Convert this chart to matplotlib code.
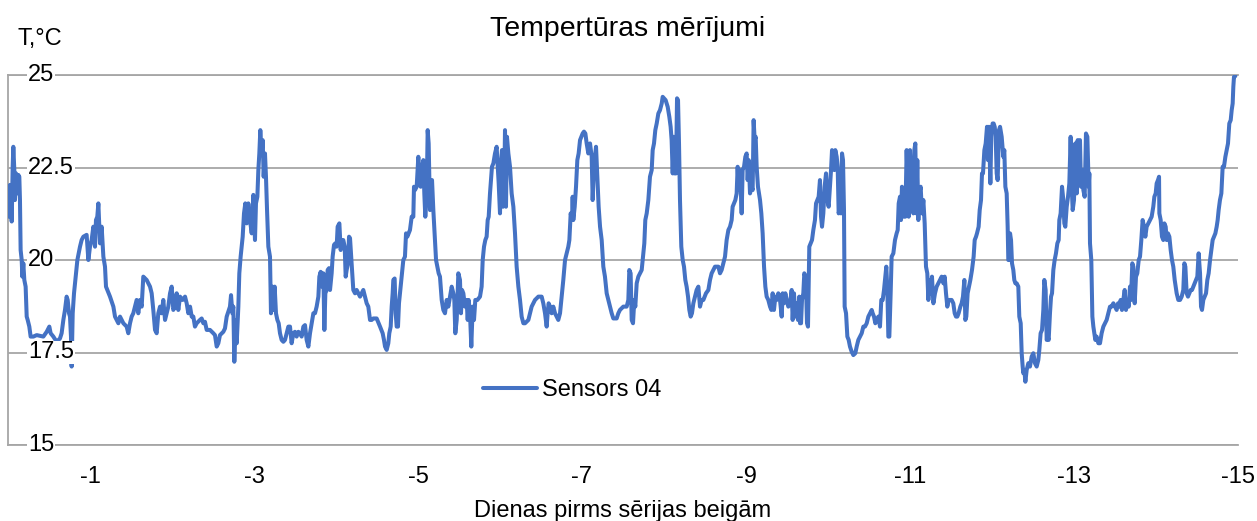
"""
Temperature series of sensor 04 over the last 15 days.
Values read off the reference chart (days before the end of the series, degC).
"""

import matplotlib
matplotlib.use('Agg')
import matplotlib.pyplot as plt
import matplotlib.transforms as mtransforms
import numpy as np

# --- data, segment by segment (day 0 .. day -15) ---------------------------
days_1 = [0.0, -0.004, -0.024, -0.037, -0.045, -0.057, -0.065, -0.077, -0.085, -0.098,
          -0.106, -0.118, -0.126, -0.138, -0.146, -0.154, -0.167, -0.175, -0.187, -0.199,
          -0.215, -0.228, -0.240, -0.260, -0.276, -0.309, -0.350, -0.431, -0.472, -0.504,
          -0.520, -0.553, -0.593, -0.634, -0.654, -0.675, -0.695, -0.715, -0.728, -0.744,
          -0.756, -0.768, -0.776, -0.789, -0.805, -0.829, -0.846, -0.878, -0.898, -0.919,
          -0.959, -0.980, -1.000, -1.020, -1.041, -1.061, -1.073, -1.089, -1.102, -1.122,
          -1.142, -1.163, -1.183, -1.195, -1.211, -1.244, -1.285, -1.305, -1.346, -1.366,
          -1.407, -1.447, -1.467, -1.488, -1.508, -1.528, -1.549, -1.569, -1.589, -1.610,
          -1.630, -1.650, -1.691, -1.732, -1.752, -1.772, -1.793, -1.813, -1.833, -1.854,
          -1.874, -1.894, -1.915, -1.935, -1.955, -1.976, -1.996, -2.016, -2.037, -2.057,
          -2.077, -2.098, -2.130, -2.159, -2.179, -2.199, -2.220, -2.240, -2.260, -2.280,
          -2.301, -2.341]
temps_1 = [21.98, 21.17, 22.03, 21.44, 21.04, 22.52, 23.06, 22.43, 21.62, 22.34,
           22.25, 21.80, 22.30, 22.25, 21.62, 20.27, 20.00, 19.55, 19.91, 19.46,
           19.28, 18.47, 18.38, 18.20, 17.93, 17.93, 17.97, 17.93, 18.06, 18.20,
           18.02, 17.93, 17.79, 17.88, 18.02, 18.38, 18.65, 19.01, 18.92, 18.56,
           18.47, 17.93, 17.12, 18.56, 19.10, 19.64, 20.00, 20.36, 20.54, 20.63,
           20.68, 20.00, 20.36, 20.54, 20.90, 20.36, 21.08, 21.17, 21.53, 20.45,
           20.90, 20.09, 19.82, 19.28, 19.19, 19.01, 18.74, 18.47, 18.29, 18.47,
           18.29, 18.20, 18.02, 18.29, 18.47, 18.56, 18.74, 18.92, 18.56, 18.92,
           18.74, 19.55, 19.46, 19.28, 19.10, 18.65, 18.11, 18.02, 18.56, 18.74,
           18.56, 18.92, 18.38, 18.56, 18.74, 19.10, 19.28, 18.65, 18.74, 19.10,
           18.65, 19.01, 18.92, 19.01, 18.83, 18.56, 18.74, 18.47, 18.47, 18.20,
           18.29, 18.38]

days_2 = [-2.362, -2.382, -2.402, -2.423, -2.463, -2.504, -2.524, -2.545, -2.565, -2.585,
          -2.626, -2.646, -2.667, -2.707, -2.720, -2.736, -2.748, -2.760, -2.776, -2.789,
          -2.809, -2.821, -2.837, -2.862, -2.878, -2.894, -2.911, -2.931, -2.951, -2.972,
          -2.992, -3.012, -3.024, -3.041, -3.053, -3.065, -3.077, -3.093, -3.106, -3.118,
          -3.134, -3.146, -3.159, -3.175, -3.195, -3.207, -3.224, -3.236, -3.252, -3.268,
          -3.285, -3.301, -3.317, -3.337, -3.358, -3.378, -3.398, -3.419, -3.439, -3.459,
          -3.480, -3.500, -3.520, -3.541, -3.561, -3.581, -3.602, -3.622, -3.642, -3.663,
          -3.683, -3.703, -3.724, -3.744, -3.764, -3.785, -3.797, -3.813, -3.829, -3.846,
          -3.858, -3.870, -3.886, -3.898, -3.915, -3.927, -3.947, -3.959, -3.976, -3.992,
          -4.008, -4.020, -4.041, -4.057, -4.073, -4.089, -4.106, -4.118, -4.130, -4.146,
          -4.159, -4.171, -4.191, -4.199, -4.211, -4.232, -4.252, -4.272, -4.293, -4.313,
          -4.333, -4.354, -4.374, -4.394, -4.415, -4.435, -4.455, -4.496, -4.537, -4.569,
          -4.585, -4.598, -4.618, -4.638, -4.650, -4.667, -4.679, -4.691, -4.699, -4.715,
          -4.728, -4.740, -4.756, -4.768, -4.780]
temps_2 = [18.42, 18.29, 18.33, 18.11, 18.11, 18.02, 17.97, 17.66, 17.75, 17.97,
           18.06, 18.15, 18.47, 18.74, 19.05, 18.56, 18.74, 17.25, 18.38, 17.75,
           18.74, 19.64, 20.09, 20.63, 21.26, 21.53, 20.99, 21.53, 21.08, 20.72,
           21.76, 20.54, 21.53, 21.71, 22.43, 22.88, 23.51, 22.88, 23.24, 22.25,
           22.88, 22.25, 21.35, 20.36, 20.09, 18.56, 19.28, 18.65, 19.28, 18.56,
           18.38, 18.29, 18.02, 17.84, 17.79, 17.84, 18.02, 18.20, 18.20, 17.75,
           18.02, 18.06, 17.93, 18.06, 18.02, 17.93, 18.20, 18.24, 17.84, 17.66,
           18.02, 18.29, 18.56, 18.56, 18.74, 19.01, 19.55, 19.68, 19.28, 19.64,
           18.11, 19.10, 19.19, 19.73, 19.78, 19.19, 19.64, 20.09, 20.41, 20.45,
           20.36, 20.90, 20.99, 20.27, 20.54, 20.54, 20.36, 19.55, 19.73, 19.91,
           20.63, 20.59, 19.91, 19.64, 19.19, 19.10, 19.19, 19.10, 19.01, 19.10,
           19.19, 19.01, 18.83, 18.74, 18.38, 18.38, 18.42, 18.42, 18.20, 18.02,
           17.84, 17.66, 17.57, 17.75, 18.02, 18.20, 18.74, 19.10, 19.46, 19.50,
           18.56, 18.20, 18.20, 18.83, 19.10]

days_3 = [-4.821, -4.841, -4.854, -4.870, -4.902, -4.923, -4.943, -4.951, -4.963, -4.984,
          -5.004, -5.016, -5.033, -5.049, -5.065, -5.077, -5.089, -5.106, -5.118, -5.130,
          -5.146, -5.159, -5.171, -5.187, -5.207, -5.220, -5.236, -5.252, -5.268, -5.289,
          -5.309, -5.329, -5.350, -5.370, -5.390, -5.411, -5.431, -5.443, -5.455, -5.472,
          -5.492, -5.512, -5.524, -5.537, -5.553, -5.573, -5.593, -5.606, -5.618, -5.634,
          -5.650, -5.667, -5.683, -5.699, -5.724, -5.756, -5.776, -5.789, -5.805, -5.821,
          -5.837, -5.850, -5.862, -5.878, -5.890, -5.902, -5.919, -5.939, -5.959, -5.972,
          -5.984, -6.000, -6.012, -6.024, -6.037, -6.049, -6.061, -6.073, -6.085, -6.102,
          -6.122, -6.142, -6.163, -6.183, -6.203, -6.224, -6.244, -6.264, -6.285, -6.305,
          -6.346, -6.386, -6.427, -6.468, -6.508, -6.528, -6.549, -6.569, -6.581, -6.593,
          -6.610, -6.630, -6.650, -6.671, -6.691, -6.711, -6.732, -6.752, -6.772, -6.793,
          -6.813, -6.833, -6.846, -6.862, -6.878, -6.886, -6.894, -6.911, -6.927, -6.943,
          -6.959, -6.976, -6.992, -7.008, -7.024, -7.041, -7.057, -7.077, -7.098, -7.118,
          -7.130, -7.146, -7.159, -7.171, -7.187, -7.203, -7.220]
temps_3 = [20.00, 20.09, 20.72, 20.63, 20.81, 21.17, 21.17, 21.98, 21.89, 21.98,
           22.79, 22.25, 21.98, 22.52, 22.70, 21.80, 21.17, 21.80, 23.51, 23.15,
           21.35, 21.98, 22.16, 21.35, 20.54, 20.00, 19.82, 19.64, 19.55, 18.92,
           18.65, 18.56, 18.92, 18.74, 19.01, 19.28, 19.10, 18.92, 18.02, 18.38,
           19.64, 19.46, 18.56, 19.19, 19.10, 18.74, 18.92, 18.38, 18.92, 18.56,
           17.66, 18.74, 18.38, 18.92, 18.92, 19.01, 19.28, 20.00, 20.36, 20.54,
           20.63, 21.08, 21.17, 21.80, 22.16, 22.52, 22.61, 22.88, 23.06, 22.52,
           22.07, 21.26, 22.61, 22.97, 21.44, 21.62, 23.51, 21.44, 23.33, 22.88,
           22.52, 21.80, 21.44, 20.72, 19.82, 19.28, 18.92, 18.47, 18.29, 18.29,
           18.38, 18.74, 18.92, 19.01, 19.01, 18.83, 18.56, 18.20, 18.56, 18.83,
           18.74, 18.56, 18.74, 18.56, 18.47, 18.38, 18.56, 19.01, 19.46, 20.00,
           20.18, 20.36, 20.54, 21.26, 21.08, 21.71, 21.08, 21.44, 21.98, 22.70,
           22.88, 23.24, 23.33, 23.42, 23.47, 23.42, 23.15, 22.88, 23.15, 22.79,
           21.62, 22.52, 22.79, 23.06, 22.25, 21.44, 20.90]

days_4 = [-7.240, -7.260, -7.280, -7.301, -7.321, -7.341, -7.362, -7.382, -7.423, -7.443,
          -7.463, -7.504, -7.545, -7.565, -7.577, -7.593, -7.606, -7.622, -7.638, -7.650,
          -7.667, -7.687, -7.707, -7.728, -7.748, -7.760, -7.772, -7.789, -7.809, -7.829,
          -7.850, -7.862, -7.878, -7.894, -7.911, -7.931, -7.951, -7.972, -7.984, -8.000,
          -8.020, -8.045, -8.065, -8.081, -8.093, -8.106, -8.118, -8.130, -8.146, -8.159,
          -8.171, -8.183, -8.195, -8.211, -8.228, -8.244, -8.260, -8.276, -8.293, -8.309,
          -8.325, -8.341, -8.358, -8.378, -8.398, -8.419, -8.439, -8.459, -8.480, -8.512,
          -8.541, -8.561, -8.581, -8.602, -8.622, -8.663, -8.683, -8.703, -8.724, -8.744,
          -8.764, -8.785, -8.805, -8.825, -8.837, -8.854, -8.870, -8.886, -8.898, -8.911,
          -8.927, -8.947, -8.959, -8.976, -8.992, -9.008, -9.020, -9.033, -9.049, -9.069,
          -9.081, -9.093, -9.106, -9.118, -9.130, -9.146, -9.171, -9.187, -9.203, -9.220,
          -9.236, -9.252, -9.272, -9.293, -9.309, -9.325, -9.341, -9.358, -9.374, -9.394,
          -9.415, -9.435, -9.447, -9.463, -9.480, -9.496, -9.516, -9.537, -9.557, -9.569,
          -9.585, -9.602, -9.622, -9.634, -9.650, -9.659]
temps_4 = [20.54, 19.82, 19.55, 19.10, 18.92, 18.74, 18.56, 18.42, 18.42, 18.56,
           18.65, 18.74, 18.74, 18.92, 19.73, 19.64, 18.38, 18.29, 18.92, 18.74,
           19.37, 19.55, 19.64, 19.73, 20.18, 20.45, 21.08, 21.26, 21.62, 22.25,
           22.43, 22.97, 23.15, 23.51, 23.69, 23.96, 24.05, 24.23, 24.41, 24.37,
           24.32, 24.14, 23.87, 23.60, 23.24, 22.34, 23.33, 22.34, 22.34, 24.37,
           24.32, 23.15, 21.62, 20.36, 20.00, 19.82, 19.46, 19.28, 19.01, 18.65,
           18.47, 18.56, 18.83, 19.01, 19.19, 19.28, 18.74, 18.92, 18.92, 19.10,
           19.19, 19.46, 19.64, 19.73, 19.82, 19.82, 19.64, 19.73, 19.91, 20.09,
           20.54, 20.81, 20.90, 21.08, 21.44, 21.53, 21.62, 21.80, 22.52, 21.89,
           22.43, 21.26, 22.43, 22.52, 22.79, 22.88, 22.16, 22.70, 21.80, 21.98,
           21.89, 23.78, 23.24, 23.33, 22.52, 21.98, 21.62, 21.26, 20.72, 19.82,
           19.28, 19.01, 18.92, 18.74, 18.65, 19.10, 18.65, 19.01, 18.92, 19.10,
           18.92, 18.47, 19.10, 18.83, 19.10, 18.92, 18.74, 18.83, 19.19, 18.38,
           19.10, 18.47, 18.83, 18.38, 19.01, 18.29]

days_5 = [-9.671, -9.683, -9.699, -9.711, -9.724, -9.732, -9.744, -9.756, -9.772, -9.789,
          -9.805, -9.821, -9.841, -9.854, -9.870, -9.886, -9.902, -9.915, -9.927, -9.943,
          -9.959, -9.976, -9.992, -10.008, -10.024, -10.037, -10.049, -10.065, -10.077, -10.089,
          -10.106, -10.118, -10.130, -10.146, -10.159, -10.171, -10.183, -10.195, -10.203, -10.220,
          -10.236, -10.252, -10.268, -10.289, -10.309, -10.333, -10.350, -10.370, -10.390, -10.411,
          -10.431, -10.451, -10.472, -10.492, -10.512, -10.533, -10.545, -10.561, -10.577, -10.593,
          -10.614, -10.634, -10.650, -10.667, -10.683, -10.699, -10.711, -10.724, -10.736, -10.748,
          -10.764, -10.776, -10.797, -10.817, -10.837, -10.850, -10.862, -10.878, -10.890, -10.902,
          -10.919, -10.931, -10.943, -10.959, -10.972, -10.984, -11.000, -11.016, -11.028, -11.041,
          -11.053, -11.065, -11.077, -11.089, -11.102, -11.114, -11.130, -11.146, -11.163, -11.179,
          -11.195, -11.211, -11.224, -11.236, -11.252, -11.268, -11.285, -11.305, -11.325, -11.346,
          -11.366, -11.386, -11.407, -11.423, -11.439, -11.455, -11.472, -11.488, -11.508, -11.528,
          -11.545, -11.561, -11.577, -11.593, -11.614, -11.630, -11.646, -11.663, -11.675, -11.687,
          -11.703, -11.720, -11.736, -11.756, -11.776, -11.789, -11.805, -11.817, -11.837, -11.850,
          -11.866, -11.878, -11.890, -11.907, -11.923, -11.939, -11.951, -11.963, -11.980, -11.992,
          -12.008, -12.020, -12.033, -12.045, -12.057, -12.069, -12.085, -12.098]
temps_5 = [18.29, 18.92, 19.10, 19.64, 19.55, 19.28, 18.29, 18.20, 20.36, 20.45,
           20.54, 20.81, 21.08, 21.53, 21.62, 21.71, 22.16, 21.17, 20.90, 21.26,
           21.98, 22.34, 21.62, 21.44, 21.98, 22.43, 22.97, 22.88, 22.43, 22.97,
           22.79, 22.52, 21.26, 21.44, 21.26, 22.88, 22.70, 21.35, 18.74, 18.56,
           17.93, 17.84, 17.66, 17.52, 17.43, 17.48, 17.66, 17.84, 17.93, 18.02,
           18.20, 18.20, 18.29, 18.47, 18.56, 18.65, 18.56, 18.47, 18.29, 18.38,
           18.47, 18.20, 18.92, 18.92, 19.19, 19.55, 19.82, 19.19, 17.93, 17.93,
           19.10, 20.09, 20.18, 20.54, 20.72, 20.81, 21.53, 21.71, 21.08, 21.98,
           21.17, 21.71, 21.17, 22.97, 22.07, 21.17, 22.97, 21.98, 22.70, 21.26,
           22.97, 23.15, 21.26, 22.70, 21.08, 21.80, 21.98, 21.26, 21.62, 20.99,
           19.82, 19.64, 18.92, 19.46, 19.10, 19.55, 18.83, 19.10, 19.28, 19.37,
           19.46, 19.55, 19.37, 19.55, 19.10, 18.74, 18.92, 18.92, 18.92, 18.83,
           18.56, 18.47, 18.47, 18.56, 18.74, 18.83, 19.01, 19.46, 18.38, 18.47,
           19.10, 19.28, 19.46, 19.73, 20.09, 20.54, 20.63, 20.72, 20.90, 21.35,
           21.62, 22.34, 22.34, 22.97, 23.15, 23.60, 22.70, 23.60, 22.07, 23.42,
           23.69, 23.69, 23.60, 23.33, 22.34, 22.16, 23.51, 23.60]

days_6 = [-12.118, -12.138, -12.150, -12.163, -12.179, -12.191, -12.199, -12.211, -12.220, -12.232,
          -12.244, -12.260, -12.272, -12.285, -12.301, -12.321, -12.333, -12.350, -12.362, -12.374,
          -12.382, -12.394, -12.407, -12.423, -12.443, -12.463, -12.484, -12.504, -12.524, -12.545,
          -12.565, -12.577, -12.593, -12.610, -12.626, -12.638, -12.654, -12.667, -12.679, -12.691,
          -12.707, -12.720, -12.732, -12.748, -12.764, -12.780, -12.797, -12.813, -12.821, -12.837,
          -12.854, -12.870, -12.882, -12.894, -12.911, -12.927, -12.943, -12.959, -12.972, -12.984,
          -13.000, -13.016, -13.033, -13.045, -13.057, -13.073, -13.085, -13.098, -13.114, -13.130,
          -13.146, -13.163, -13.179, -13.187, -13.195, -13.211, -13.224, -13.236, -13.248, -13.260,
          -13.276, -13.297, -13.317, -13.337, -13.358, -13.378, -13.398, -13.419, -13.439, -13.459,
          -13.480, -13.500, -13.520, -13.537, -13.553, -13.569, -13.585, -13.602, -13.618, -13.634,
          -13.650, -13.667, -13.683, -13.695, -13.711, -13.724, -13.740, -13.756, -13.772, -13.789,
          -13.805, -13.821, -13.837, -13.854, -13.870, -13.886, -13.907, -13.927, -13.947, -13.967,
          -13.980, -13.996, -14.008, -14.024, -14.037, -14.041, -14.057, -14.073, -14.089, -14.102,
          -14.118, -14.130, -14.146, -14.163, -14.179, -14.195, -14.211, -14.228, -14.240, -14.252,
          -14.272, -14.293, -14.313, -14.333, -14.346, -14.358, -14.374, -14.390, -14.407, -14.423,
          -14.439, -14.455, -14.472, -14.488, -14.504, -14.520, -14.537, -14.549, -14.561, -14.577,
          -14.593, -14.610, -14.626, -14.642, -14.659, -14.675, -14.691, -14.707, -14.724, -14.740,
          -14.752, -14.764, -14.780, -14.797, -14.813, -14.829, -14.846, -14.862, -14.878, -14.894,
          -14.911, -14.923, -14.935, -14.943, -14.951, -14.967]
temps_6 = [23.33, 22.79, 22.97, 21.98, 21.80, 20.90, 20.00, 20.00, 20.72, 20.54,
           19.91, 19.73, 19.46, 19.37, 19.37, 19.28, 18.47, 18.29, 17.48, 17.12,
           16.94, 17.03, 16.71, 17.03, 17.21, 17.12, 17.39, 17.48, 17.21, 17.12,
           17.30, 17.57, 18.02, 18.11, 18.65, 19.46, 19.19, 17.84, 17.93, 17.84,
           18.56, 19.01, 19.10, 19.73, 20.00, 20.18, 20.45, 20.54, 21.08, 21.26,
           21.98, 21.62, 20.99, 20.90, 21.44, 21.71, 22.07, 23.33, 21.98, 21.35,
           21.62, 23.15, 21.80, 23.24, 22.16, 23.24, 21.98, 22.43, 21.89, 21.71,
           23.42, 23.33, 21.98, 22.34, 20.45, 20.00, 18.47, 18.20, 18.02, 17.84,
           17.93, 17.75, 17.75, 18.02, 18.20, 18.29, 18.38, 18.56, 18.74, 18.74,
           18.83, 18.74, 18.65, 18.83, 18.74, 18.92, 18.65, 18.92, 19.19, 18.65,
           18.92, 18.74, 19.28, 18.92, 19.91, 19.82, 18.83, 19.55, 19.64, 20.00,
           20.09, 20.54, 21.08, 20.90, 20.63, 20.90, 20.99, 21.08, 21.17, 21.44,
           21.71, 21.80, 22.07, 22.16, 22.25, 21.26, 21.08, 20.63, 20.54, 20.99,
           20.90, 20.54, 20.72, 20.63, 20.27, 20.00, 19.82, 19.46, 19.28, 19.10,
           18.92, 18.92, 19.01, 19.19, 19.91, 19.82, 19.10, 19.01, 19.10, 19.19,
           19.19, 19.28, 19.37, 19.46, 19.55, 20.18, 19.64, 18.74, 18.65, 18.92,
           19.01, 19.10, 19.46, 19.64, 20.00, 20.27, 20.54, 20.63, 20.72, 20.90,
           21.08, 21.35, 21.62, 21.80, 22.52, 22.52, 22.79, 22.97, 23.15, 23.69,
           23.78, 24.05, 24.23, 24.68, 24.95, 24.97]

x_ticks = [-1, -3, -5, -7, -9, -11, -13, -15]
y_ticks = [15, 17.5, 20, 22.5, 25]
y_tick_labels = ['15', '17.5', '20', '22.5', '25']

series_name = 'Sensors 04'
title = 'Tempertūras mērījumi'
x_label = 'Dienas pirms sērijas beigām'
y_label = 'T,°C'

LINE_COLOR = '#4472C4'
GRID_COLOR = '#a6a6a6'
TEXT_COLOR = '#000000'


def plot_temperature():
    plt.rcParams['font.family'] = ['Liberation Sans', 'DejaVu Sans']

    days = np.concatenate([days_1, days_2, days_3, days_4, days_5, days_6])
    temps = np.concatenate([temps_1, temps_2, temps_3, temps_4, temps_5, temps_6])

    W, H = 1257, 521
    fig = plt.figure(figsize=(W / 100, H / 100), dpi=100)
    ax = fig.add_axes([8 / W, 76 / H, 1230 / W, 370 / H])

    ax.plot(days, temps, color=LINE_COLOR, linewidth=2.9, label=series_name,
            solid_joinstyle='round', solid_capstyle='round', zorder=3)

    ax.set_xlim(0, -15)
    ax.set_ylim(15, 25)

    # axes frame / grid
    ax.spines['right'].set_visible(False)
    for side in ['left', 'top', 'bottom']:
        ax.spines[side].set_color(GRID_COLOR)
        ax.spines[side].set_linewidth(1.3)
    ax.set_yticks(y_ticks)
    ax.grid(True, axis='y', color=GRID_COLOR, linewidth=1.3)
    ax.set_axisbelow(True)
    ax.tick_params(axis='y', length=0, labelleft=False)

    ax.set_xticks(x_ticks)
    ax.set_xticklabels([str(t) for t in x_ticks])
    ax.tick_params(axis='x', length=0, pad=15, labelsize=17, labelcolor=TEXT_COLOR)

    # y labels sit inside the plot, on white boxes above the line
    trans = mtransforms.blended_transform_factory(ax.transAxes, ax.transData)
    for val, lab in zip(y_ticks, y_tick_labels):
        ax.text(20 / 1230, val, lab, transform=trans, ha='left', va='center',
                fontsize=17, color=TEXT_COLOR, zorder=5, clip_on=False,
                bbox=dict(facecolor='white', edgecolor='none', pad=0.5))

    ax.set_xlabel(x_label, fontsize=17, color=TEXT_COLOR, labelpad=9)

    fig.text(628 / W, 1 - 29 / H, title, ha='center', va='center',
             fontsize=20.5, color=TEXT_COLOR)
    fig.text(17 / W, 1 - 39 / H, y_label, ha='left', va='center',
             fontsize=17, color=TEXT_COLOR)

    ax.legend(loc='center left', bbox_to_anchor=((483 - 8) / 1230, (445 - 390) / 370),
              frameon=False, fontsize=17, handlelength=2.3, handletextpad=0.2,
              borderpad=0, borderaxespad=0)

    fig.savefig('out.png', dpi=100)
    plt.close(fig)


if __name__ == '__main__':
    plot_temperature()
